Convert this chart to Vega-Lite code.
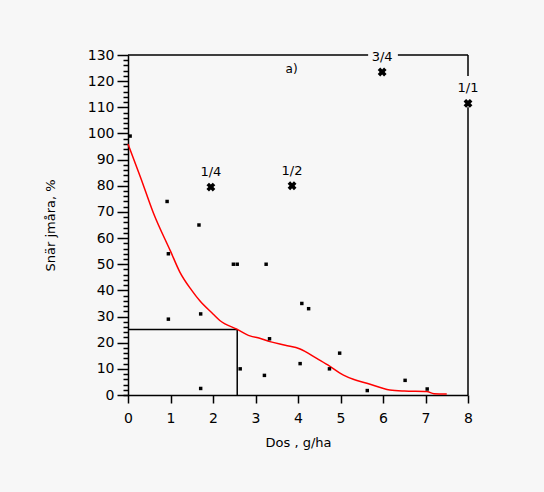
{
  "$schema": "https://vega.github.io/schema/vega-lite/v6.json",
  "autosize": "none",
  "width": 340,
  "height": 340,
  "padding": {"left": 128, "top": 55, "right": 76, "bottom": 97},
  "background": "#f7f7f7",
  "config": {"view": {"stroke": null}, "font": "DejaVu Sans"},
  "datasets": {
    "obs": [
      {"dos": 0.05, "val": 99}, {"dos": 0.92, "val": 74}, {"dos": 1.67, "val": 65},
      {"dos": 0.95, "val": 54}, {"dos": 0.95, "val": 29}, {"dos": 1.71, "val": 31},
      {"dos": 1.71, "val": 2.5}, {"dos": 2.48, "val": 50}, {"dos": 2.57, "val": 50},
      {"dos": 2.64, "val": 10}, {"dos": 3.25, "val": 50}, {"dos": 3.33, "val": 21.5},
      {"dos": 3.21, "val": 7.5}, {"dos": 4.09, "val": 35}, {"dos": 4.25, "val": 33},
      {"dos": 4.05, "val": 12}, {"dos": 4.74, "val": 10}, {"dos": 4.98, "val": 16},
      {"dos": 5.63, "val": 1.7}, {"dos": 6.52, "val": 5.6}, {"dos": 7.04, "val": 2.3}
    ],
    "fit": [
      {"dos": 0, "val": 96}, {"dos": 0.3, "val": 83}, {"dos": 0.6, "val": 69.5},
      {"dos": 1.0, "val": 55}, {"dos": 1.22, "val": 47}, {"dos": 1.5, "val": 40},
      {"dos": 1.69, "val": 36}, {"dos": 2.0, "val": 31}, {"dos": 2.16, "val": 28.5},
      {"dos": 2.56, "val": 25.2}, {"dos": 2.87, "val": 22.6}, {"dos": 3.1, "val": 21.7},
      {"dos": 3.34, "val": 20.4}, {"dos": 3.7, "val": 19}, {"dos": 4.05, "val": 17.6},
      {"dos": 4.44, "val": 14}, {"dos": 4.7, "val": 11.5}, {"dos": 5.07, "val": 7.6},
      {"dos": 5.3, "val": 6}, {"dos": 5.62, "val": 4.5}, {"dos": 6.16, "val": 1.9},
      {"dos": 6.5, "val": 1.5}, {"dos": 7.03, "val": 1.3}, {"dos": 7.2, "val": 0.5},
      {"dos": 7.5, "val": 0.4}
    ],
    "marks": [
      {"dos": 1.95, "val": 79.5, "label": "1/4"},
      {"dos": 3.86, "val": 80, "label": "1/2"},
      {"dos": 5.98, "val": 123.5, "label": "3/4"},
      {"dos": 8.0, "val": 111.5, "label": "1/1"}
    ],
    "segs": [
      {"x1": 0, "y1": 25, "x2": 2.57, "y2": 25},
      {"x1": 2.57, "y1": 25, "x2": 2.57, "y2": 0},
      {"x1": 0, "y1": 130, "x2": 5.65, "y2": 130},
      {"x1": 6.35, "y1": 130, "x2": 8, "y2": 130},
      {"x1": 8, "y1": 130, "x2": 8, "y2": 122},
      {"x1": 8, "y1": 110, "x2": 8, "y2": 0}
    ],
    "note": [{"dos": 3.85, "val": 124.5, "label": "a)"}]
  },
  "resolve": {"axis": {"y": "independent"}},
  "layer": [
    {
      "data": {"name": "segs"},
      "mark": {"type": "rule", "color": "#000", "strokeWidth": 1.5},
      "encoding": {
        "x": {"field": "x1", "type": "quantitative", "scale": {"domain": [0, 8]},
          "axis": {"values": [0,1,2,3,4,5,6,7,8], "title": "Dos , g/ha", "titleFont": "DejaVu Sans", "titleFontSize": 13, "titleFontWeight": "normal", "titleColor": "#000", "titlePadding": 11, "labelFontSize": 14, "labelColor": "#000", "labelPadding": 8, "tickSize": 8, "tickColor": "#000", "domainColor": "#000", "domainWidth": 1.5, "tickWidth": 1.5, "grid": false, "labelFlush": false}},
        "x2": {"field": "x2"},
        "y": {"field": "y1", "type": "quantitative", "scale": {"domain": [0, 130]},
          "axis": {"values": [0,10,20,30,40,50,60,70,80,90,100,110,120,130], "orient": "left", "title": "Snär jmåra, %", "titleFontSize": 13, "titleFontWeight": "normal", "titleColor": "#000", "titlePadding": 30, "labelFontSize": 14, "labelColor": "#000", "labelPadding": 3, "tickSize": 11, "tickColor": "#000", "tickWidth": 1.5, "domainColor": "#000", "domainWidth": 1.5, "grid": false, "labelFlush": false}},
        "y2": {"field": "y2"}
      }
    },
    {
      "data": {"name": "fit"},
      "mark": {"type": "line", "color": "#ff0000", "strokeWidth": 1.5, "interpolate": "monotone"},
      "encoding": {
        "x": {"field": "dos", "type": "quantitative"},
        "y": {"field": "val", "type": "quantitative",
          "axis": {"orient": "left", "values": [0,2,4,6,8,12,14,16,18,22,24,26,28,32,34,36,38,42,44,46,48,52,54,56,58,62,64,66,68,72,74,76,78,82,84,86,88,92,94,96,98,102,104,106,108,112,114,116,118,122,124,126,128], "labels": false, "title": null, "domain": false, "tickSize": 5, "tickColor": "#000", "tickWidth": 1.5, "grid": false}}
      }
    },
    {
      "data": {"name": "obs"},
      "mark": {"type": "square", "color": "#000", "size": 12, "opacity": 1},
      "encoding": {
        "x": {"field": "dos", "type": "quantitative"},
        "y": {"field": "val", "type": "quantitative", "axis": null}
      }
    },
    {
      "data": {"name": "marks"},
      "mark": {"type": "point", "shape": "cross", "angle": 45, "filled": true, "color": "#000", "size": 80, "opacity": 1},
      "encoding": {
        "x": {"field": "dos", "type": "quantitative"},
        "y": {"field": "val", "type": "quantitative", "axis": null}
      }
    },
    {
      "data": {"name": "marks"},
      "mark": {"type": "text", "dy": -15, "fontSize": 13, "color": "#000", "baseline": "middle"},
      "encoding": {
        "x": {"field": "dos", "type": "quantitative"},
        "y": {"field": "val", "type": "quantitative", "axis": null},
        "text": {"field": "label"}
      }
    },
    {
      "data": {"name": "note"},
      "mark": {"type": "text", "fontSize": 12, "color": "#000", "baseline": "middle"},
      "encoding": {
        "x": {"field": "dos", "type": "quantitative"},
        "y": {"field": "val", "type": "quantitative", "axis": null},
        "text": {"field": "label"}
      }
    }
  ]
}
